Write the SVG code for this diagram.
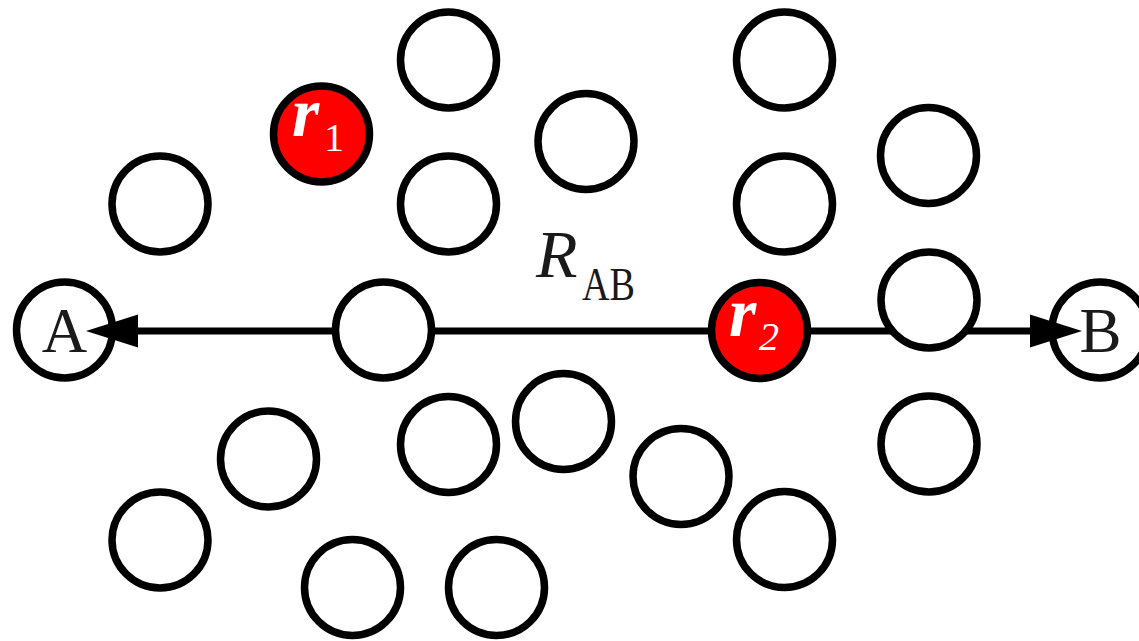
<svg xmlns="http://www.w3.org/2000/svg" width="1139" height="641" viewBox="0 0 1139 641">
<style>
.c{fill:#fff;stroke:#000;stroke-width:7.5}
.red{fill:#ff0000;stroke:#000;stroke-width:7.5}
.lbl{fill:#1a1a1a}
.rr{fill:#fff}
text{font-family:'Liberation Serif','Times New Roman',Times,serif}
</style>
<defs>
<marker id="ah" markerUnits="userSpaceOnUse" markerWidth="54" markerHeight="36" refX="0" refY="16.5" orient="auto-start-reverse" overflow="visible">
<path d="M0,0 L52,16.5 L0,33 Z" fill="#000"/>
</marker>
</defs>
<rect width="1139" height="641" fill="#fff"/>
<g id="nodeA"><circle class="c" cx="64.5" cy="330" r="48"/><text class="lbl" x="64.5" y="352" font-size="63" text-anchor="middle">A</text></g>
<g id="nodeB"><circle class="c" cx="1100" cy="330" r="48"/><text class="lbl" x="1100.5" y="352" font-size="63" text-anchor="middle">B</text></g>
<g id="connectors">
<line x1="138" y1="331" x2="1030" y2="331" stroke="#000" stroke-width="7" marker-start="url(#ah)" marker-end="url(#ah)"/>
</g>
<g id="label-RAB"><text class="lbl" x="536" y="277" font-size="68" font-style="italic">R</text><text class="lbl" x="582" y="300" font-size="47" textLength="53" lengthAdjust="spacingAndGlyphs">AB</text></g>
<g id="n1"><circle class="c" cx="448.5" cy="60" r="48"/></g>
<g id="r1"><circle class="red" cx="321.5" cy="134" r="48"/><text class="rr" x="292" y="136" font-size="70" font-style="italic" font-weight="bold">r</text><text class="rr" x="324" y="151" font-size="40">1</text></g>
<g id="n3"><circle class="c" cx="160" cy="204" r="48"/></g>
<g id="n4"><circle class="c" cx="448.5" cy="204" r="48"/></g>
<g id="n5"><circle class="c" cx="586" cy="141.5" r="48"/></g>
<g id="n6"><circle class="c" cx="784.5" cy="60" r="48"/></g>
<g id="n7"><circle class="c" cx="784.5" cy="204" r="48"/></g>
<g id="n8"><circle class="c" cx="928.5" cy="155.5" r="48"/></g>
<g id="n9"><circle class="c" cx="383.5" cy="330" r="48"/></g>
<g id="r2"><circle class="red" cx="759.5" cy="330.5" r="48"/><text class="rr" x="729" y="336" font-size="70" font-style="italic" font-weight="bold">r</text><text class="rr" x="759" y="350" font-size="40" font-style="italic">2</text></g>
<g id="n11"><circle class="c" cx="929" cy="300" r="48"/></g>
<g id="n12"><circle class="c" cx="268.5" cy="459" r="48"/></g>
<g id="n13"><circle class="c" cx="448.5" cy="444.5" r="48"/></g>
<g id="n14"><circle class="c" cx="563.5" cy="421.5" r="48"/></g>
<g id="n15"><circle class="c" cx="681" cy="476.5" r="48"/></g>
<g id="n16"><circle class="c" cx="929" cy="444" r="48"/></g>
<g id="n17"><circle class="c" cx="160" cy="540" r="48"/></g>
<g id="n18"><circle class="c" cx="352.5" cy="587.5" r="48"/></g>
<g id="n19"><circle class="c" cx="496.5" cy="587.5" r="48"/></g>
<g id="n20"><circle class="c" cx="784.5" cy="539.5" r="48"/></g>
</svg>
